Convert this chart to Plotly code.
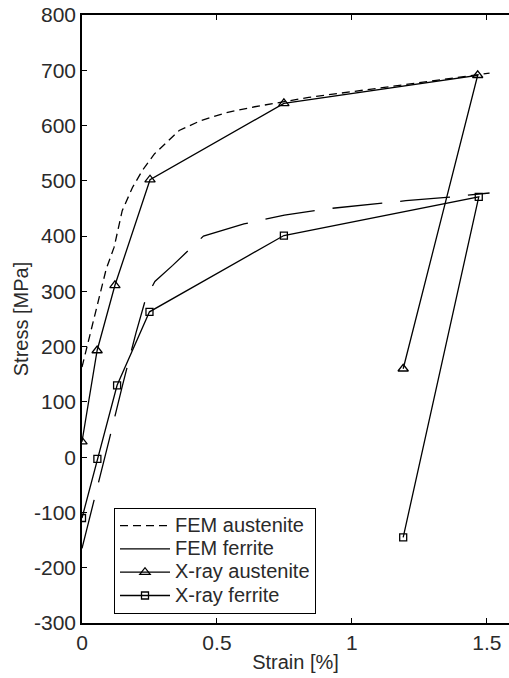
import plotly.graph_objects as go

# FEM austenite (short dashed)
fem_aus_x = [0.0, 0.034, 0.052, 0.09, 0.119, 0.149, 0.187, 0.224, 0.269, 0.36, 0.44, 0.54, 0.64, 0.84, 1.12, 1.37, 1.51]
fem_aus_y = [163, 229, 266, 341, 380, 446, 488, 519, 549, 591, 609, 624, 634, 651, 669, 685, 695]

# FEM ferrite (long dashed)
fem_fer_x = [0.0, 0.05, 0.1, 0.15, 0.2, 0.235, 0.27, 0.336, 0.40, 0.45, 0.6, 0.75, 0.9, 1.2, 1.35, 1.51]
fem_fer_y = [-165, -70, 30, 130, 225, 285, 318, 347, 377, 400, 422, 438, 449, 464, 470, 478]

# X-ray austenite (triangles)
xray_aus_x = [0.0, 0.056, 0.122, 0.252, 0.748, 1.466, 1.19]
xray_aus_y = [28, 193, 311, 502, 640, 691, 160]

# X-ray ferrite (squares)
xray_fer_x = [0.0, 0.057, 0.13, 0.25, 0.748, 1.47, 1.19]
xray_fer_y = [-110, -3, 130, 263, 401, 471, -145]

series_names = ["FEM austenite", "FEM ferrite", "X-ray austenite", "X-ray ferrite"]

y_ticks = [-300, -200, -100, 0, 100, 200, 300, 400, 500, 600, 700, 800]
y_tick_labels = ["-300", "-200", "-100", "0", "100", "200", "300", "400", "500", "600", "700", "800"]
x_ticks = [0, 0.5, 1, 1.5]
x_tick_labels = ["0", "0.5", "1", "1.5"]

FONT = "Liberation Sans, Arial, sans-serif"
TXT = "#2a2a2a"

W, H = 509, 678
L, T, B = 82, 15, 55
plot_h = H - T - B


def legend_label(s):
    # legend rows are spaced from legend.font.size; the label itself is drawn larger
    return '<span style="font-size:20px">' + s + '</span>'


fig = go.Figure()
fig.add_trace(go.Scatter(x=fem_aus_x, y=fem_aus_y, mode="lines", name=legend_label(series_names[0]),
                         line=dict(color="black", width=1.3, dash="8px,5px")))
fig.add_trace(go.Scatter(x=fem_fer_x, y=fem_fer_y, mode="lines", name=legend_label(series_names[1]),
                         line=dict(color="black", width=1.3, dash="50px,18px")))
fig.add_trace(go.Scatter(x=xray_aus_x, y=xray_aus_y, mode="lines+markers", name=legend_label(series_names[2]),
                         line=dict(color="black", width=1.3),
                         marker=dict(symbol="triangle-up-open", size=9, color="black", line=dict(width=1.3))))
fig.add_trace(go.Scatter(x=xray_fer_x, y=xray_fer_y, mode="lines+markers", name=legend_label(series_names[3]),
                         line=dict(color="black", width=1.3),
                         marker=dict(symbol="square-open", size=7, color="black", line=dict(width=1.3))))

fig.update_layout(
    width=W, height=H,
    margin=dict(l=L, r=0, t=T, b=B, autoexpand=False),
    paper_bgcolor="white", plot_bgcolor="white",
    font=dict(family=FONT, size=20, color=TXT),
    showlegend=True,
    legend=dict(x=(114 - L) / (W - L), y=(623 - 561) / plot_h, xanchor="left", yanchor="middle",
                bordercolor="black", borderwidth=1, bgcolor="white",
                font=dict(family=FONT, size=15.6, color=TXT),
                tracegroupgap=0, itemwidth=50),
    xaxis=dict(range=[0, 1.582], tickvals=x_ticks, ticktext=x_tick_labels,
               ticks="inside", ticklen=5, tickcolor="black",
               showline=True, linecolor="black", linewidth=1.5, mirror="ticks",
               showgrid=False, zeroline=False, automargin=False, ticklabeloverflow="allow",
               title=dict(text="Strain [%]", standoff=2, font=dict(size=20, color=TXT)),
               tickfont=dict(size=21, color=TXT)),
    yaxis=dict(range=[-300, 800], tickvals=y_ticks, ticktext=y_tick_labels,
               ticks="inside", ticklen=5, tickcolor="black",
               showline=True, linecolor="black", linewidth=1.5,
               showgrid=False, zeroline=False, automargin=False, ticklabeloverflow="allow",
               title=dict(text="Stress [MPa]", standoff=0, font=dict(size=20, color=TXT)),
               tickfont=dict(size=21, color=TXT)),
    yaxis2=dict(range=[-300, 800], tickvals=y_ticks, overlaying="y", side="right",
                ticks="inside", ticklen=5, tickcolor="black", showticklabels=False,
                showline=False, showgrid=False, zeroline=False, automargin=False),
)

# remove the browser's default 8px body margin so the figure fills the window exactly
fig.write_html("out.html", config={"displayModeBar": False},
               post_script="document.body.style.margin='0';")
